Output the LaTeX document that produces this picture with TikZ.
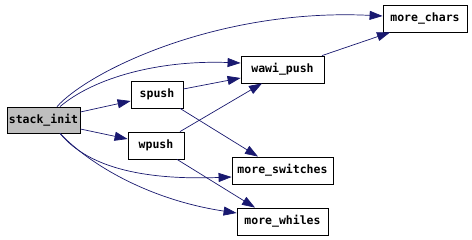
\documentclass[tikz,border=0pt]{standalone}
\usepackage{fontspec}
\setmonofont{DejaVu Sans Mono}
\usetikzlibrary{arrows.meta}
\definecolor{edgeblue}{HTML}{191970}
\definecolor{rootgray}{HTML}{BFBFBF}
\tikzset{
  fn/.style={draw=black, line width=0.8pt, fill=white, inner sep=0pt,
    minimum height=27pt, font=\ttfamily\bfseries\fontsize{11.5}{13}\selectfont},
  root/.style={fn, fill=rootgray, minimum height=26pt},
  edge/.style={draw=edgeblue, line width=0.7pt,
    -{Triangle[length=13pt,width=9pt,fill=edgeblue]}},
}
\begin{document}
\begin{tikzpicture}[x=1pt,y=-1pt]
  \useasboundingbox (0,0) rectangle (472,240);
  \fill[white] (0,0) rectangle (472,240);

  % call graph nodes
  \node[root, minimum width=73pt] (si) at (43.5,120) {stack\_init};
  \node[fn, minimum width=52pt] (sp) at (157,94.5) {spush};
  \node[fn, minimum width=56pt] (wp) at (156,145.5) {wpush};
  \node[fn, minimum width=83pt] (wa) at (282.5,69.5) {wawi\_push};
  \node[fn, minimum width=84pt] (mc) at (425,18.5) {more\_chars};
  \node[fn, minimum width=101pt] (ms) at (282.5,170.5) {more\_switches};
  \node[fn, minimum width=91pt] (mw) at (282.5,221.5) {more\_whiles};

  % calls made by stack_init
  \draw[edge] ([xshift=13.5pt]si.north) .. controls (90,70) and (220,8) .. ([yshift=2.5pt]mc.west);
  \draw[edge] ([xshift=16.5pt]si.north) .. controls (95,77) and (160,60) .. ([yshift=6.5pt]wa.west);
  \draw[edge] ([yshift=8pt]si.east) -- ([yshift=-6.5pt]sp.west);
  \draw[edge] ([yshift=-9pt]si.east) -- ([yshift=6.5pt]wp.west);
  \draw[edge] ([xshift=16.5pt]si.south) .. controls (90,170) and (150,180) .. ([yshift=-6.5pt]ms.west);
  \draw[edge] ([xshift=16.5pt]si.south) .. controls (90,165) and (150,200) .. ([yshift=8.5pt]mw.west);

  % calls made by spush and wpush
  \draw[edge] ([yshift=5.5pt]sp.east) -- ([yshift=-8.5pt]wa.west);
  \draw[edge] ([xshift=23pt]sp.south) -- ([xshift=-24.5pt]ms.north);
  \draw[edge] ([xshift=24pt]wp.north) -- ([xshift=-20.5pt]wa.south);
  \draw[edge] ([xshift=21pt]wp.south) -- ([xshift=-27.5pt]mw.north);

  % wawi_push calls more_chars
  \draw[edge] ([xshift=39.5pt]wa.north) -- ([xshift=-35pt]mc.south);
\end{tikzpicture}
\end{document}
